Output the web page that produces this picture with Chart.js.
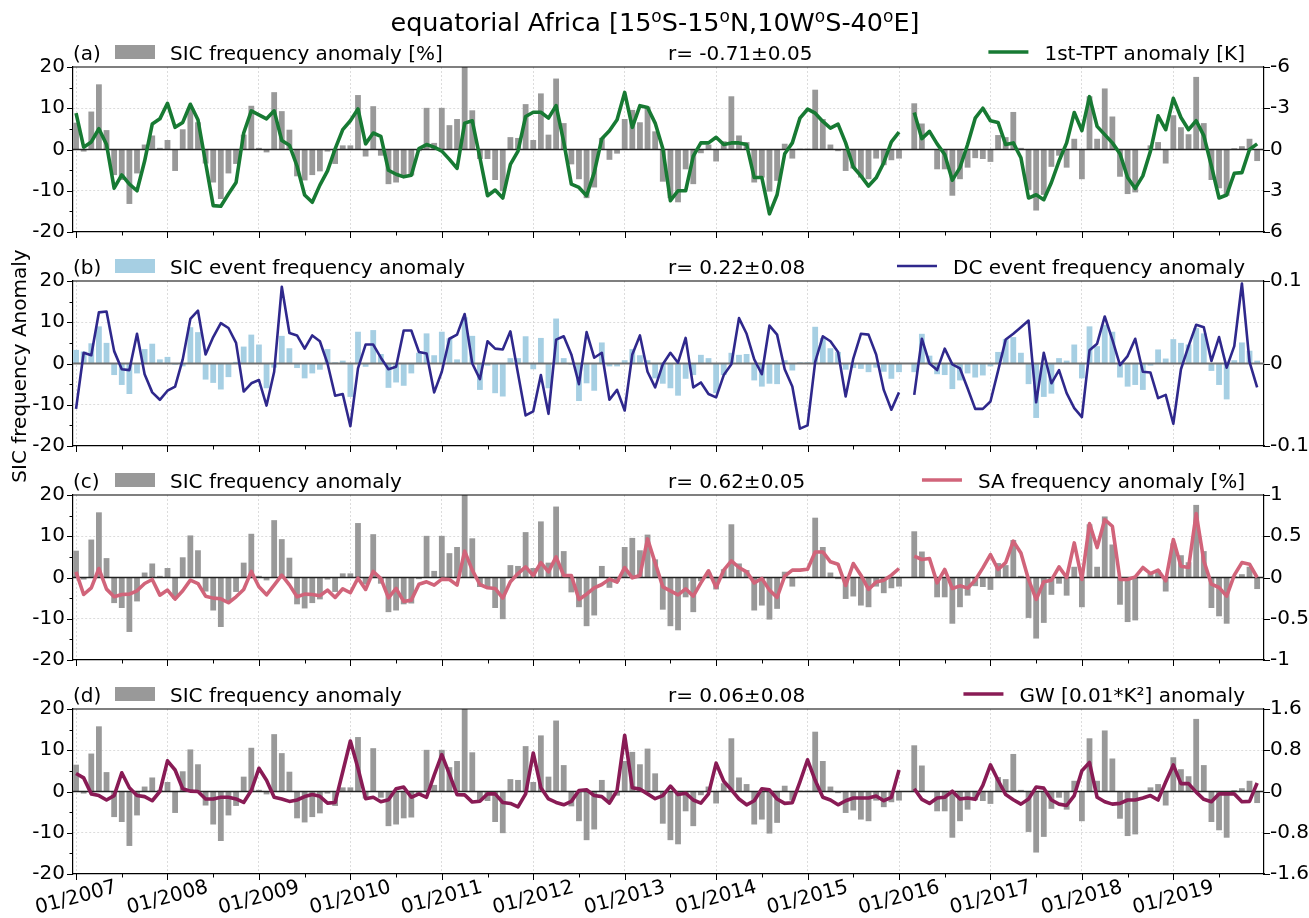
<!DOCTYPE html>
<html>
<head>
<meta charset="utf-8">
<title>equatorial Africa</title>
<script src="https://cdn.jsdelivr.net/npm/chart.js@4.4.1/dist/chart.umd.min.js"></script>
<style>
  html, body { margin: 0; padding: 0; background: #ffffff; }
  #wrap { position: relative; width: 1309px; height: 918px; overflow: hidden; }
  #wrap canvas { position: absolute; left: 0; top: 0; }
</style>
</head>
<body>
<div id="wrap">
  <canvas id="panelA" width="1309" height="918"></canvas>
  <canvas id="panelB" width="1309" height="918"></canvas>
  <canvas id="panelC" width="1309" height="918"></canvas>
  <canvas id="panelD" width="1309" height="918"></canvas>
</div>
<script>
// Monthly series, January 2007 .. December 2019 (index 0 = 01/2007); February 2016 is missing.
const yearLabels = ['01/2007','01/2008','01/2009','01/2010','01/2011','01/2012','01/2013',
                    '01/2014','01/2015','01/2016','01/2017','01/2018','01/2019'];

// SIC frequency anomaly [%]
const sicFreq = [
  6.5, -0.5, 9.2, 15.8, 4.7, -6.2, -7.4, -13.2, -5.8, 1.2,
  3.4, 0.4, 2.3, -5.2, 4.9, 10.2, 6.6, -3.4, -8.0, -12.0,
  -5.8, -3.5, 3.6, 10.6, 0.4, -0.7, 13.9, 9.3, 4.8, -6.5,
  -7.5, -6.2, -5.3, -0.5, -3.5, 1.0, 1.0, 13.2, -1.7, 10.5,
  -1.5, -8.4, -8.0, -6.5, -6.3, -0.4, 10.1, 1.6, 10.1, 5.9,
  7.4, 21.0, 9.5, -2.3, -2.3, -7.4, -10.1, 3.0, 2.8, 11.0,
  2.3, 13.6, 3.6, 17.2, 6.4, -3.6, -7.2, -11.8, -9.2, 2.8,
  -2.5, -1.0, 7.4, 9.6, 6.6, 10.4, 4.4, -7.8, -11.8, -12.8,
  -4.8, -8.4, -0.9, 1.2, -2.9, 2.0, 12.9, 3.4, 1.8, -8.0,
  -6.8, -10.2, -7.6, 1.4, -2.2, 0.2, 0.2, 14.5, 7.4, 1.2,
  -0.4, -5.2, -4.6, -6.8, -7.2, -2.2, -3.8, -2.6, -2.2, null,
  11.2, 6.3, 0.0, -4.8, -4.8, -11.2, -7.2, -4.4, -2.1, -2.3,
  -3.0, 3.5, 3.0, 9.1, 0.4, -9.8, -14.8, -11.0, -4.2, -1.5,
  -4.4, 2.6, -7.2, 12.9, 2.6, 14.8, 8.0, -6.6, -10.8, -10.4,
  0.1, 1.0, 1.8, -3.4, 8.3, 5.4, 3.7, 17.6, 6.4, -7.4,
  -9.4, -11.2, 0.3, 0.8, 2.6, -2.8
];

// SIC event frequency anomaly
const sicEvent = [
  3.3, 2.9, 4.9, 9.0, 5.0, -2.8, -5.2, -7.4, -2.4, 3.5,
  4.8, 1.0, 1.6, -0.3, -0.7, 8.8, 7.6, -3.9, -4.7, -6.3,
  -3.3, 0.4, 4.1, 7.0, 4.6, -6.0, -1.0, 6.7, 3.7, -1.1,
  -3.6, -2.4, -1.5, 3.5, 0.3, 0.7, -8.1, 7.7, -0.8, 8.1,
  2.3, -5.9, -4.6, -5.4, -2.4, 2.6, 7.3, 2.0, 7.7, 6.1,
  1.0, 11.2, 6.7, -6.4, -0.5, -7.2, -8.0, 1.3, 1.3, 6.6,
  -1.4, 6.2, -6.0, 10.9, 1.3, -0.3, -9.1, -4.8, -6.6, 5.1,
  -0.7, -0.7, 0.8, 3.5, 2.0, 0.8, -3.6, -4.9, -6.0, -7.8,
  -3.7, -2.8, 2.1, 1.3, -7.2, -2.8, 2.6, 2.1, 2.3, -4.1,
  -5.6, -4.9, -5.0, 0.8, -1.7, 0.3, 0.3, 8.9, 6.2, 3.7,
  2.8, -1.5, -1.1, -1.3, -2.1, -1.0, -2.0, -3.7, -2.1, null,
  -2.1, 7.2, 1.9, -2.6, -2.8, -6.2, -4.1, -2.4, -3.4, -2.9,
  -0.7, 2.8, 5.9, 6.4, 2.6, -5.0, -13.2, -8.1, -7.3, 1.3,
  0.7, 4.6, -3.6, 9.0, 4.2, 9.4, 7.7, -3.4, -5.6, -5.2,
  -6.4, -0.5, 3.4, 1.2, 5.9, 5.0, 4.6, 8.6, 7.3, -1.8,
  -5.2, -8.7, 0.8, 5.1, 3.1, 0.7
];

// 1st-TPT anomaly [K]
const tptAnom = [
  -2.64, -0.17, -0.55, -1.51, -0.36, 2.81, 1.85, 2.52, 3.00, 0.84,
  -1.85, -2.23, -3.36, -1.61, -1.97, -3.29, -2.16, 0.96, 4.08, 4.13,
  3.24, 2.40, -1.20, -2.81, -2.52, -2.23, -2.81, -0.65, -0.31, 1.20,
  3.31, 3.84, 2.59, 1.56, -0.05, -1.44, -2.09, -2.95, -0.41, -1.20,
  -0.96, 1.51, 1.80, 1.99, 1.87, -0.07, -0.36, -0.17, 0.12, 0.72,
  1.37, -1.92, -2.09, 0.60, 3.36, 2.95, 3.53, 1.08, 0.12, -2.40,
  -2.71, -2.71, -2.28, -3.19, -0.55, 2.52, 2.76, 3.36, 1.68, -0.79,
  -1.37, -2.16, -4.15, -1.61, -3.19, -3.05, -1.92, -0.07, 3.72, 3.00,
  3.00, 0.48, -0.48, -0.48, -0.89, -0.36, -0.48, -0.48, -0.36, 2.04,
  2.04, 4.68, 3.29, 0.31, -0.48, -2.28, -2.93, -2.64, -2.04, -1.56,
  -1.85, -0.48, 1.27, 1.92, 2.66, 2.06, 0.96, -0.55, -1.27, null,
  -2.69, -0.79, -1.32, -0.41, 0.36, 2.23, 1.32, -0.36, -2.28, -3.00,
  -2.09, -1.97, -0.36, -0.48, 0.60, 3.53, 3.29, 3.65, 2.40, 0.84,
  -0.48, -2.69, -1.37, -3.84, -1.68, -1.08, -0.48, 0.31, 2.04, 2.83,
  1.92, 0.12, -2.45, -1.44, -3.72, -2.33, -1.44, -2.09, -1.01, 1.20,
  3.53, 3.31, 1.73, 1.68, 0.00, -0.41
];

// DC event frequency anomaly
const dcEvent = [
  -0.055, 0.013, 0.010, 0.062, 0.063, 0.015, -0.007, -0.008, 0.036, -0.013,
  -0.035, -0.044, -0.033, -0.028, 0.005, 0.054, 0.064, 0.011, 0.032, 0.049,
  0.043, 0.025, -0.034, -0.024, -0.020, -0.051, -0.010, 0.093, 0.037, 0.034,
  0.018, 0.034, 0.027, 0.000, -0.039, -0.037, -0.076, -0.006, 0.023, 0.023,
  0.007, -0.007, -0.004, 0.040, 0.040, 0.014, 0.012, -0.035, -0.010, 0.030,
  0.035, 0.060, 0.000, -0.019, 0.027, 0.018, 0.017, 0.039, -0.012, -0.063,
  -0.058, -0.014, -0.061, 0.029, 0.033, 0.011, -0.025, 0.038, 0.007, 0.013,
  -0.044, -0.032, -0.057, 0.011, 0.034, -0.010, -0.029, -0.001, 0.013, 0.001,
  0.031, -0.029, -0.023, -0.037, -0.041, -0.014, -0.001, 0.055, 0.036, 0.005,
  -0.013, 0.046, 0.035, -0.007, -0.028, -0.079, -0.075, 0.002, 0.033, 0.027,
  0.014, -0.040, 0.006, 0.036, 0.035, 0.011, -0.032, -0.056, -0.035, null,
  -0.038, 0.030, 0.000, -0.008, 0.018, -0.001, -0.006, -0.030, -0.055, -0.055,
  -0.046, -0.009, 0.029, 0.036, 0.044, 0.052, -0.047, 0.013, -0.024, -0.008,
  -0.036, -0.054, -0.065, 0.016, 0.024, 0.057, 0.029, -0.002, 0.009, 0.030,
  -0.010, -0.011, -0.042, -0.038, -0.073, -0.007, 0.021, 0.047, 0.044, 0.003,
  0.032, -0.005, 0.021, 0.097, 0.002, -0.029
];

// SA frequency anomaly [%]
const saFreq = [
  0.069, -0.206, -0.125, 0.109, -0.141, -0.234, -0.206, -0.202, -0.161, -0.073,
  -0.024, -0.214, -0.153, -0.262, -0.161, -0.032, -0.073, -0.226, -0.250, -0.258,
  -0.306, -0.234, -0.145, 0.073, -0.113, -0.210, -0.093, 0.028, -0.089, -0.234,
  -0.202, -0.206, -0.222, -0.153, -0.242, -0.137, -0.185, -0.008, -0.145, 0.073,
  -0.012, -0.246, -0.133, -0.290, -0.274, -0.081, -0.052, -0.093, -0.020, -0.024,
  -0.093, 0.319, 0.090, -0.085, -0.125, -0.133, -0.250, -0.052, 0.048, 0.129,
  0.024, 0.181, 0.069, 0.250, 0.024, 0.024, -0.266, -0.202, -0.125, -0.085,
  -0.020, -0.056, 0.121, -0.004, 0.024, 0.468, 0.177, -0.113, -0.161, -0.210,
  -0.137, -0.226, -0.065, 0.081, -0.121, 0.089, 0.202, 0.121, 0.069, -0.065,
  -0.012, -0.153, -0.242, 0.016, 0.089, 0.089, 0.101, 0.310, 0.310, 0.190,
  0.161, -0.097, 0.169, 0.028, -0.145, -0.054, -0.032, 0.028, 0.109, null,
  0.258, 0.218, 0.230, -0.065, 0.097, -0.133, -0.101, -0.129, -0.032, 0.117,
  0.278, 0.097, 0.181, 0.440, 0.298, -0.024, -0.266, -0.052, -0.032, 0.129,
  0.000, 0.419, -0.024, 0.653, 0.363, 0.702, 0.621, -0.024, -0.024, 0.008,
  0.121, 0.048, 0.089, -0.040, 0.460, 0.137, 0.121, 0.774, 0.202, -0.081,
  -0.121, -0.226, 0.028, 0.181, 0.161, 0.000
];

// GW [0.01*K^2] anomaly
const gwAnom = [
  0.350, 0.264, -0.046, -0.079, -0.165, -0.079, 0.364, 0.073, -0.079, -0.099,
  -0.179, 0.000, 0.595, 0.417, 0.053, 0.007, 0.000, -0.145, -0.145, -0.112,
  -0.112, -0.145, -0.212, 0.020, 0.450, 0.218, -0.112, -0.145, -0.192, -0.165,
  -0.099, -0.060, -0.093, -0.225, -0.212, 0.383, 0.979, 0.450, -0.139, -0.112,
  -0.198, -0.159, 0.053, 0.086, -0.112, -0.046, -0.112, 0.317, 0.714, 0.337,
  -0.060, -0.066, -0.205, -0.190, -0.046, -0.046, -0.212, -0.231, -0.298, -0.046,
  0.747, 0.073, -0.145, -0.212, -0.258, -0.192, 0.020, 0.033, -0.079, -0.099,
  -0.225, 0.020, 1.091, 0.073, 0.046, -0.046, -0.139, -0.079, 0.106, -0.060,
  -0.033, -0.165, -0.225, -0.046, 0.549, 0.198, 0.033, -0.145, -0.258, -0.179,
  0.053, 0.033, -0.145, -0.231, -0.218, 0.185, 0.615, 0.218, -0.112, -0.165,
  -0.258, -0.179, -0.126, -0.126, -0.126, -0.086, -0.179, -0.112, 0.417, null,
  0.053, -0.152, -0.231, -0.126, -0.112, 0.007, -0.145, -0.126, -0.152, 0.119,
  0.516, 0.218, -0.060, -0.159, -0.245, -0.145, 0.086, 0.066, -0.165, -0.245,
  -0.271, -0.079, 0.403, 0.562, -0.112, -0.198, -0.245, -0.231, -0.165, -0.165,
  -0.126, -0.079, -0.165, 0.185, 0.516, 0.152, 0.152, -0.013, -0.152, -0.198,
  -0.046, -0.046, -0.046, -0.198, -0.192, 0.165
];

const FAMILY = '"DejaVu Sans"';
const font = size => size + 'px ' + FAMILY;
Chart.defaults.font.family = 'DejaVu Sans';
Chart.defaults.color = '#000000';

const points = arr => arr.map((v, i) => ({ x: i, y: v }));

// Panel decorations: spines, tick marks, legend rows, titles and date labels
function makeDeco(p) {
  return {
    id: 'panelDeco',
    afterDatasetDraw(chart, args) {
      if (args.meta.type !== 'bar') return;
      const { ctx, chartArea: a } = chart;
      const y0 = chart.scales.y.getPixelForValue(0);
      ctx.save();
      ctx.strokeStyle = p.zeroColor;
      ctx.lineWidth = p.zeroWidth;
      ctx.beginPath();
      ctx.moveTo(a.left, y0);
      ctx.lineTo(a.right, y0);
      ctx.stroke();
      ctx.restore();
    },
    afterDraw(chart) {
      const { ctx, chartArea: a, scales } = chart;
      const xs = scales.x, ys = scales.y, y2 = scales.y2;
      ctx.save();

      // top spine
      ctx.strokeStyle = '#000';
      ctx.lineWidth = 1.2;
      ctx.beginPath();
      ctx.moveTo(a.left, a.top);
      ctx.lineTo(a.right, a.top);
      ctx.stroke();

      // outward tick marks: January major, July minor; left major every 10, minor every 5
      ctx.lineWidth = 1;
      ctx.beginPath();
      for (let m = 0; m <= 150; m += 6) {
        const px = Math.round(xs.getPixelForValue(m)) + 0.5;
        const len = m % 12 === 0 ? 6 : 3.5;
        ctx.moveTo(px, a.bottom);
        ctx.lineTo(px, a.bottom + len);
      }
      for (let v = -20; v <= 20; v += 5) {
        const py = Math.round(ys.getPixelForValue(v)) + 0.5;
        const len = v % 10 === 0 ? 6 : 3.5;
        ctx.moveTo(a.left, py);
        ctx.lineTo(a.left - len, py);
      }
      p.rightTicks.forEach(v => {
        const py = Math.round(y2.getPixelForValue(v)) + 0.5;
        ctx.moveTo(a.right, py);
        ctx.lineTo(a.right + 6, py);
      });
      ctx.stroke();

      // legend row above the panel
      const base = a.top - 7;
      ctx.font = font(20);
      ctx.fillStyle = '#000';
      ctx.textAlign = 'left';
      ctx.textBaseline = 'alphabetic';
      ctx.fillText(p.letter, 73, base);
      ctx.fillStyle = p.barColor;
      ctx.fillRect(115, a.top - 22, 40, 14);
      ctx.fillStyle = '#000';
      ctx.fillText(p.barLabel, 170, base);
      ctx.fillText(p.rText, 668, base);
      ctx.textAlign = 'right';
      ctx.fillText(p.lineLabel, 1245, base);
      const tw = ctx.measureText(p.lineLabel).width;
      const lx = 1245 - tw - 16;
      ctx.strokeStyle = p.lineColor;
      ctx.lineWidth = p.lineWidth;
      ctx.beginPath();
      ctx.moveTo(lx - 40, a.top - 15);
      ctx.lineTo(lx, a.top - 15);
      ctx.stroke();

      // main title with raised degree marks
      if (p.title) {
        const segs = p.title;
        const big = 25.5, small = 17;
        let total = 0;
        segs.forEach(s => { ctx.font = font(s.sup ? small : big); total += ctx.measureText(s.t).width; });
        let x = 655 - total / 2;
        ctx.fillStyle = '#000';
        ctx.textAlign = 'left';
        ctx.textBaseline = 'alphabetic';
        segs.forEach(s => {
          ctx.font = font(s.sup ? small : big);
          ctx.fillText(s.t, x, s.sup ? 22 : 31);
          x += ctx.measureText(s.t).width;
        });
      }

      // shared left-axis caption
      if (p.yTitle) {
        ctx.save();
        ctx.translate(21, 366);
        ctx.rotate(-Math.PI / 2);
        ctx.font = font(20);
        ctx.fillStyle = '#000';
        ctx.textAlign = 'center';
        ctx.textBaseline = 'middle';
        ctx.fillText(p.yTitle, 0, 0);
        ctx.restore();
      }

      // rotated date labels under the bottom panel
      if (p.dateLabels) {
        ctx.font = font(20);
        ctx.fillStyle = '#000';
        ctx.textAlign = 'center';
        ctx.textBaseline = 'middle';
        yearLabels.forEach((lab, k) => {
          const px = xs.getPixelForValue(k * 12);
          ctx.save();
          ctx.translate(px, a.bottom + 24);
          ctx.rotate(-15 * Math.PI / 180);
          ctx.fillText(lab, 0, 0);
          ctx.restore();
        });
      }
      ctx.restore();
    }
  };
}

function makePanel(id, p) {
  const H = 918;
  return new Chart(document.getElementById(id), {
    type: 'bar',
    data: {
      datasets: [
        {
          type: 'line',
          data: points(p.line),
          yAxisID: 'y2',
          borderColor: p.lineColor,
          borderWidth: p.lineWidth,
          borderJoinStyle: 'round',
          pointRadius: 0,
          tension: 0,
          spanGaps: false,
          order: 1,
          clip: 0
        },
        {
          type: 'bar',
          data: points(p.bars),
          yAxisID: 'y',
          backgroundColor: p.barColor,
          borderWidth: 0,
          barPercentage: 0.76,
          categoryPercentage: 1.0,
          order: 2,
          clip: 0
        }
      ]
    },
    options: {
      responsive: false,
      animation: false,
      events: [],
      layout: { padding: { top: p.top, bottom: H - p.bottom - 10, left: 0, right: 0 } },
      plugins: { legend: { display: false }, tooltip: { enabled: false }, title: { display: false } },
      scales: {
        x: {
          type: 'linear',
          min: -0.4,
          max: 155.9,
          offset: false,
          afterFit: s => { s.height = 10; },
          afterBuildTicks: s => {
            const t = [];
            for (let m = 0; m <= 150; m += 6) t.push({ value: m });
            s.ticks = t;
          },
          ticks: { display: false },
          grid: {
            offset: false,
            drawTicks: false,
            lineWidth: 0.8,
            color: c => (c.tick && c.tick.value % 12 === 0) ? '#d4d4d4' : 'rgba(0,0,0,0)'
          },
          border: { display: true, color: '#000', width: 1.2, dash: [2, 2] }
        },
        y: {
          position: 'left',
          min: -20,
          max: 20,
          afterFit: s => { s.width = 73; },
          ticks: { stepSize: 10, padding: 8, font: { size: 20 }, color: '#000' },
          grid: {
            drawTicks: false,
            lineWidth: 0.8,
            color: c => (c.tick && Math.abs(c.tick.value) === 10) ? '#d4d4d4' : 'rgba(0,0,0,0)'
          },
          border: { display: true, color: '#000', width: 1.2, dash: [2, 2] }
        },
        y2: {
          position: 'right',
          min: p.rightMin,
          max: p.rightMax,
          reverse: !!p.rightReverse,
          afterFit: s => { s.width = 45; },
          afterBuildTicks: s => { s.ticks = p.rightTicks.map(v => ({ value: v })); },
          ticks: {
            padding: 6,
            font: { size: 20 },
            color: '#000',
            callback: v => String(Math.round(v * 100) / 100)
          },
          grid: { drawOnChartArea: false, drawTicks: false },
          border: { display: true, color: '#000', width: 1.2 }
        }
      }
    },
    plugins: [makeDeco(p)]
  });
}

const GRAY = '#999999';

makePanel('panelA', {
  top: 67, bottom: 232,
  bars: sicFreq, barColor: GRAY,
  line: tptAnom, lineColor: '#177a33', lineWidth: 3.6,
  rightMin: -6, rightMax: 6, rightReverse: true, rightTicks: [-6, -3, 0, 3, 6],
  letter: '(a)', barLabel: 'SIC frequency anomaly [%]', rText: 'r= -0.71\u00b10.05',
  lineLabel: '1st-TPT anomaly [K]', zeroColor: '#222222', zeroWidth: 1.3,
  title: [
    { t: 'equatorial Africa [15' }, { t: 'o', sup: true }, { t: 'S-15' }, { t: 'o', sup: true },
    { t: 'N,10W' }, { t: 'o', sup: true }, { t: 'S-40' }, { t: 'o', sup: true }, { t: 'E]' }
  ]
});

makePanel('panelB', {
  top: 281, bottom: 446,
  bars: sicEvent, barColor: '#a6cfe3',
  line: dcEvent, lineColor: '#2f288c', lineWidth: 2.6,
  rightMin: -0.1, rightMax: 0.1, rightTicks: [-0.1, 0, 0.1],
  letter: '(b)', barLabel: 'SIC event frequency anomaly', rText: 'r= 0.22\u00b10.08',
  lineLabel: 'DC event frequency anomaly', zeroColor: '#707070', zeroWidth: 2.2,
  yTitle: 'SIC frequency Anomaly'
});

makePanel('panelC', {
  top: 495, bottom: 660,
  bars: sicFreq, barColor: GRAY,
  line: saFreq, lineColor: '#d1647a', lineWidth: 3.6,
  rightMin: -1, rightMax: 1, rightTicks: [-1, -0.5, 0, 0.5, 1],
  letter: '(c)', barLabel: 'SIC frequency anomaly', rText: 'r= 0.62\u00b10.05',
  lineLabel: 'SA frequency anomaly [%]', zeroColor: '#222222', zeroWidth: 1.3
});

makePanel('panelD', {
  top: 709, bottom: 874,
  bars: sicFreq, barColor: GRAY,
  line: gwAnom, lineColor: '#891b55', lineWidth: 3.6,
  rightMin: -1.6, rightMax: 1.6, rightTicks: [-1.6, -0.8, 0, 0.8, 1.6],
  letter: '(d)', barLabel: 'SIC frequency anomaly', rText: 'r= 0.06\u00b10.08',
  lineLabel: 'GW [0.01*K\u00b2] anomaly', zeroColor: '#222222', zeroWidth: 1.3,
  dateLabels: true
});
</script>
</body>
</html>
